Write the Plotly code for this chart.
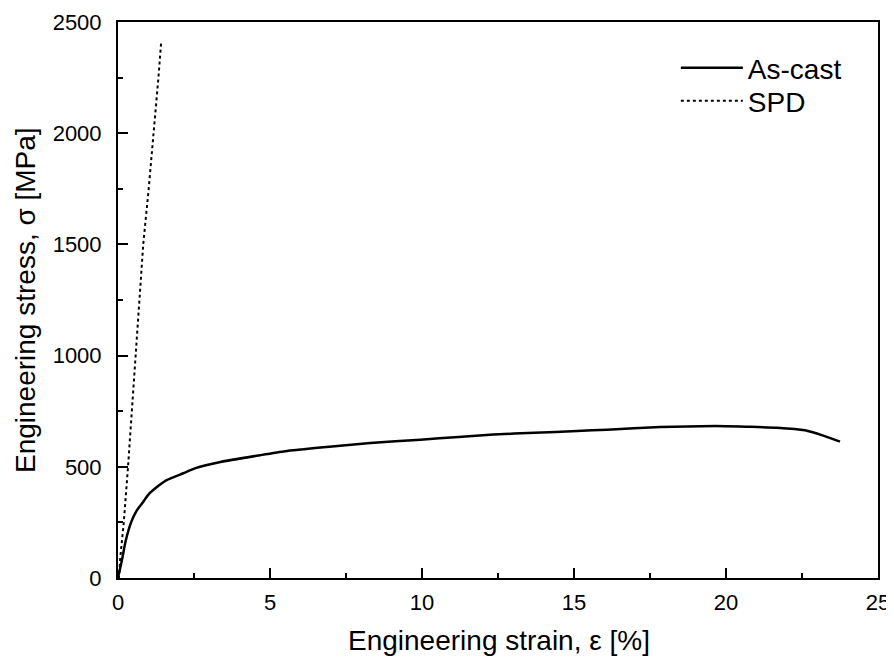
import plotly.graph_objects as go

# As-cast curve (strain %, stress MPa)
ascast_strain = [0.0, 0.13, 0.25, 0.43, 0.6, 0.8, 1.0, 1.29, 1.6, 2.15, 2.55, 3.37, 4.67, 5.5, 6.86, 8.3, 9.95, 11.2, 12.35, 13.7, 15.1, 16.09, 17.84, 19.65, 20.7, 21.68, 22.6, 23.2, 23.75]
ascast_stress = [0, 81, 165, 250, 300, 337, 375, 410, 440, 471, 494, 522, 552, 570, 589, 607, 622, 634, 645, 653, 661, 667, 679, 683, 680, 676, 664, 640, 613]

# SPD curve
spd_strain = [0.0, 0.03, 0.08, 0.19, 0.33, 0.46, 0.59, 0.72, 0.83, 1.01, 1.18, 1.33, 1.42]
spd_stress = [0, 0, 100, 250, 500, 750, 1000, 1250, 1500, 1750, 2000, 2250, 2410]

x_title = "Engineering strain, ε [%]"
y_title = "Engineering stress, σ [MPa]"

FONT = "Liberation Sans, Arial, sans-serif"

fig = go.Figure()
fig.add_trace(go.Scatter(x=ascast_strain, y=ascast_stress, mode="lines", name="As-cast",
                         legend="legend", showlegend=True,
                         line=dict(color="black", width=2.5, shape="spline", smoothing=0.5)))
fig.add_trace(go.Scatter(x=spd_strain, y=spd_stress, mode="lines", name="SPD",
                         legend="legend2", showlegend=True,
                         line=dict(color="black", width=2, dash="dot")))

axis_common = dict(showline=True, linecolor="black", linewidth=2, mirror=True,
                   ticks="inside", ticklen=10, tickwidth=2, tickcolor="black",
                   showgrid=False, zeroline=False, automargin=False,
                   tickfont=dict(family=FONT, size=22, color="black"))

fig.update_xaxes(range=[0, 25], dtick=5, tick0=0, ticklabelstandoff=4,
                 minor=dict(ticks="inside", ticklen=5, dtick=2.5, tickcolor="black", tickwidth=2),
                 **axis_common)
fig.update_yaxes(range=[0, 2500], dtick=500, tick0=0, ticklabelstandoff=10,
                 minor=dict(ticks="inside", ticklen=5, dtick=250, tickcolor="black", tickwidth=2),
                 **axis_common)

fig.add_annotation(text=x_title, xref="paper", yref="paper", x=0.501, y=0,
                   xanchor="center", yanchor="middle", yshift=-62, showarrow=False,
                   font=dict(family=FONT, size=28, color="black"))
fig.add_annotation(text=y_title, xref="paper", yref="paper", x=0, y=0.5,
                   xanchor="center", yanchor="middle", xshift=-93, textangle=-90, showarrow=False,
                   font=dict(family=FONT, size=28, color="black"))

leg_common = dict(xanchor="left", yanchor="middle",
                  font=dict(family=FONT, size=28, color="black"),
                  bgcolor="rgba(0,0,0,0)", itemwidth=62)

# page body has an 8px margin: figure 886x654 puts the plot area at 118..878 x 22..578
fig.update_layout(
    width=886, height=654,
    margin=dict(l=110, r=16, t=14, b=84),
    plot_bgcolor="white", paper_bgcolor="white",
    showlegend=True,
    legend=dict(x=0.734, y=0.917, **leg_common),
    legend2=dict(x=0.734, y=0.858, **leg_common),
)

fig.write_html("out.html")
